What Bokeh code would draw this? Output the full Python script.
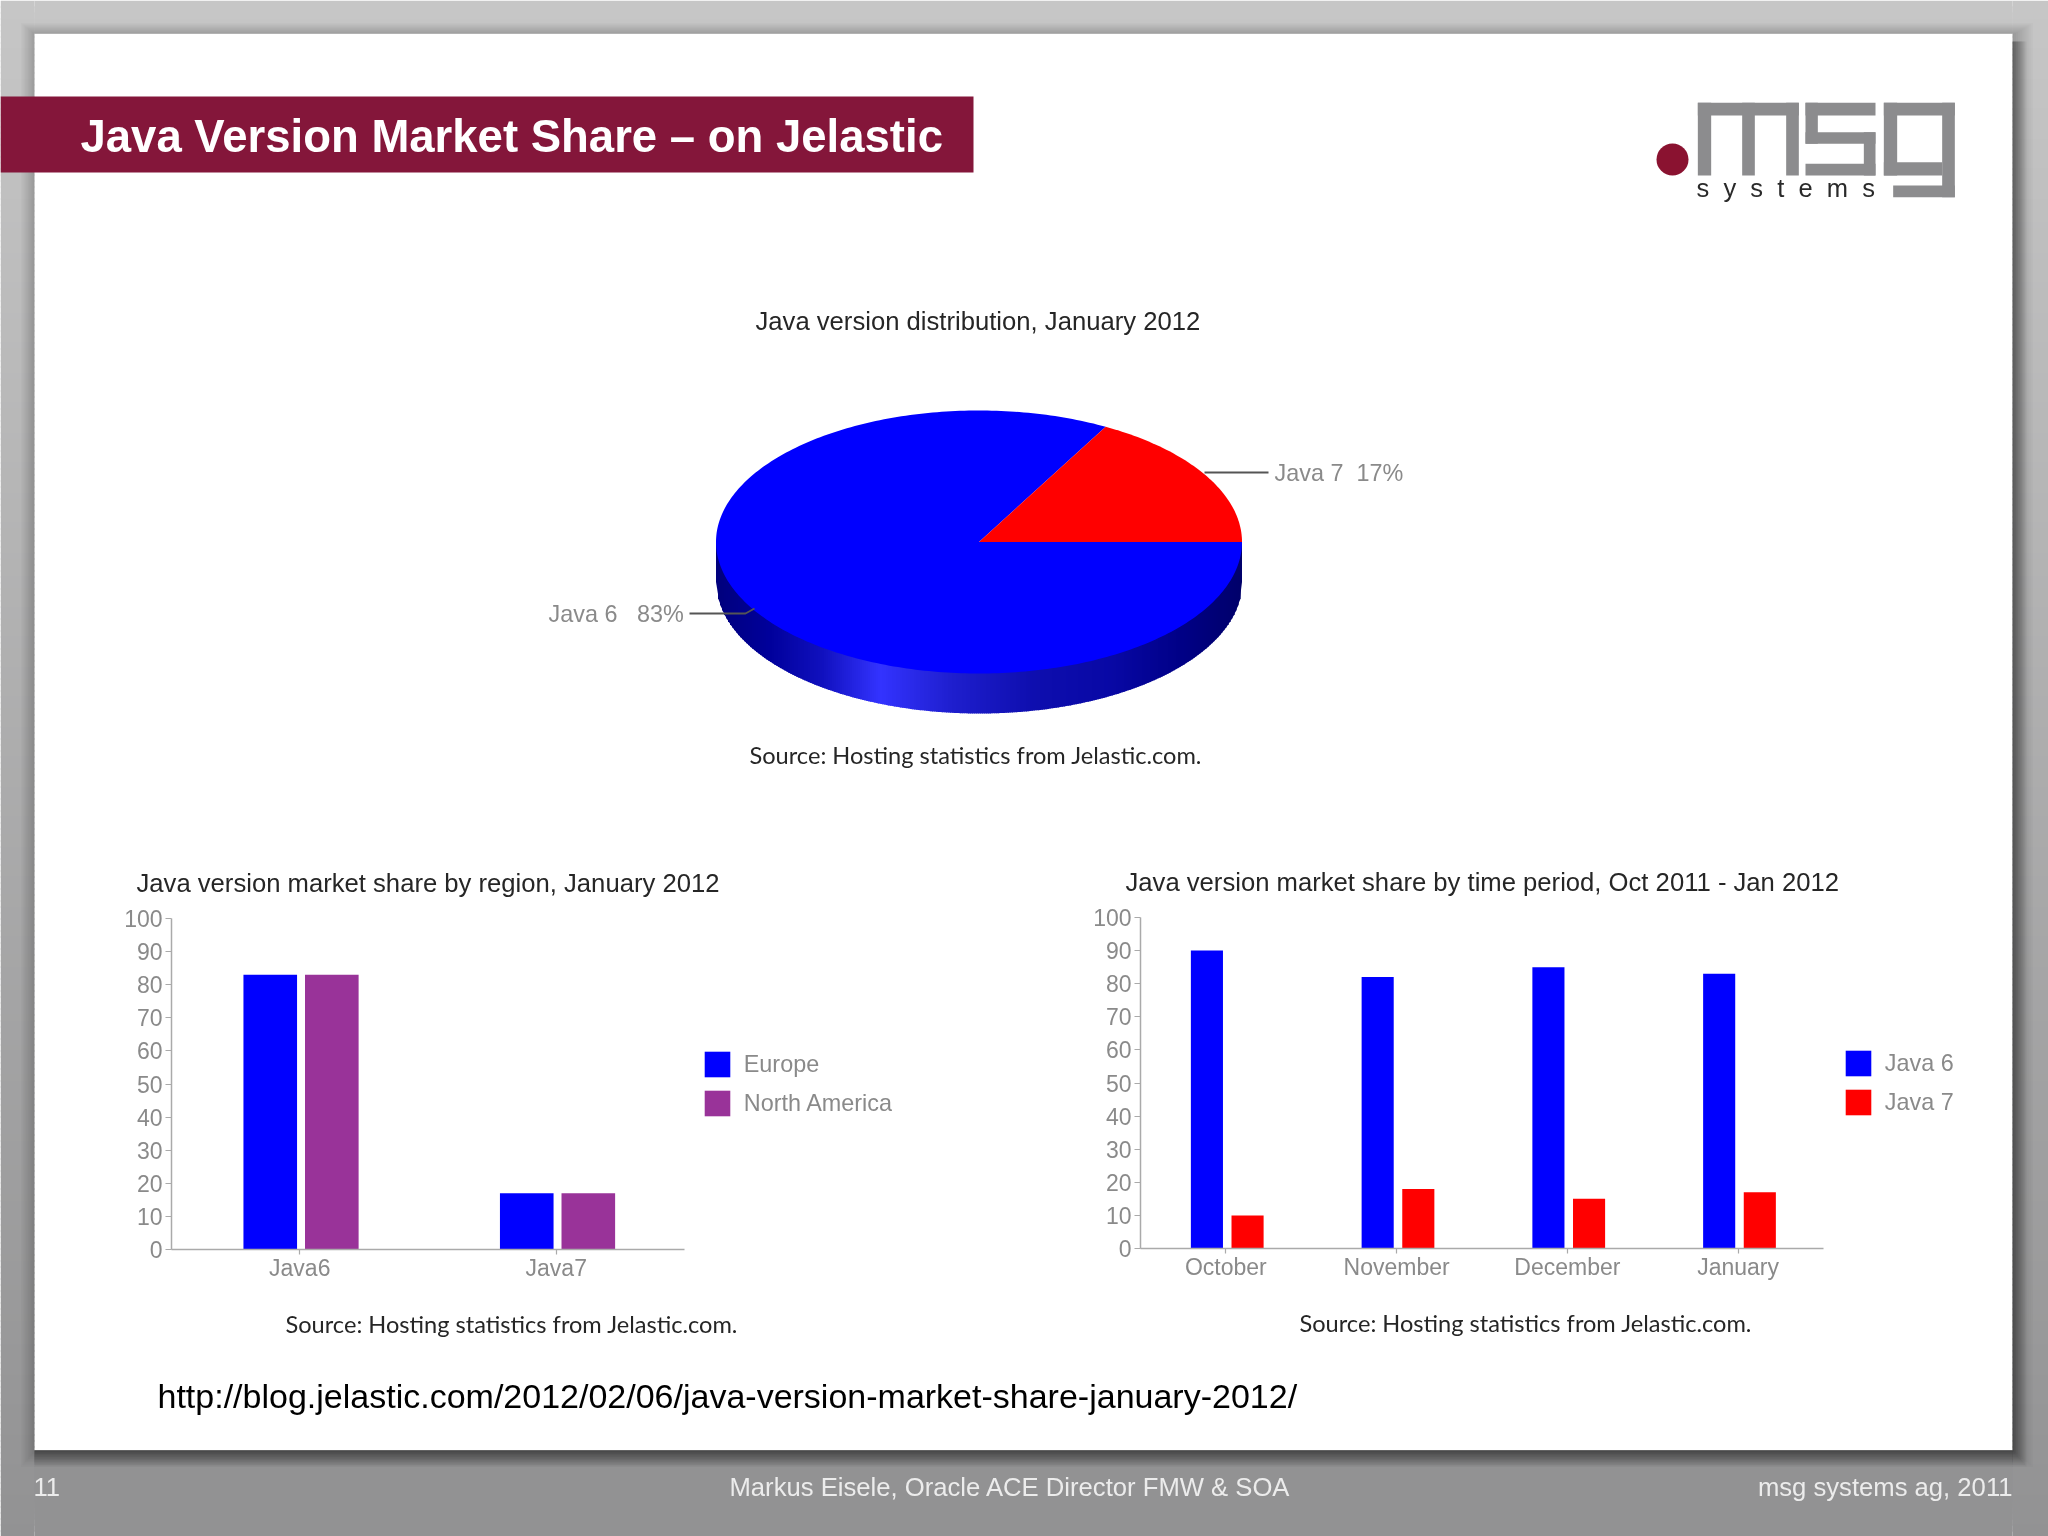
import numpy as np
from bokeh.core.properties import value
from bokeh.embed import file_html
from bokeh.layouts import column
from bokeh.models import FactorRange, FixedTicker, Legend, LegendItem, Range1d
from bokeh.plotting import figure
from bokeh.resources import INLINE
from bokeh.transform import dodge

# ---- data ----
heading = "Java Version Market Share \u2013 on Jelastic"
pie_title = "Java version distribution, January 2012"
region_title = "Java version market share by region, January 2012"
period_title = "Java version market share by time period, Oct 2011 - Jan 2012"
source_note = "Source: Hosting statistics from Jelastic.com."
url_text = "http://blog.jelastic.com/2012/02/06/java-version-market-share-january-2012/"

pie_java6 = 83
pie_java7 = 17

region_categories = ["Java6", "Java7"]
europe = [83, 17]
north_america = [83, 17]

months = ["October", "November", "December", "January"]
java6 = [90, 82, 85, 83]
java7 = [10, 18, 15, 17]

y_ticks = [0, 10, 20, 30, 40, 50, 60, 70, 80, 90, 100]

SANS = value("Liberation Sans")
LATO = value("Lato")
BLUE, RED, PURPLE = "#0000ff", "#ff0000", "#993399"
GREY_TEXT, DARK_TEXT = "#8a8a8a", "#262626"
SL, SR, ST, SB = 34, 2012, 33, 1450


def mix(c1, c2, t):
    return tuple(c1[i] + (c2[i] - c1[i]) * t for i in range(3))


def hexc(c):
    return "#%02x%02x%02x" % tuple(int(round(v)) for v in c)


def ring(f, L, R, T, B, color, alpha=1.0):
    """Paint only what lies outside the slide."""
    bands = [(L, SL, T, B), (SR, R, T, B), (SL, SR, T, ST), (SL, SR, SB, B)]
    for a, b, c, d in bands:
        if b > a and d > c:
            f.quad(left=[a], right=[b], top=[c], bottom=[d], fill_color=color, fill_alpha=alpha, line_color=None)


# ---- page: backdrop, heading, logo, pie, all texts outside the bar charts ----
page = figure(width=2048, height=1536, x_range=Range1d(0, 2048), y_range=Range1d(1536, 0),
              output_backend="svg", toolbar_location=None, min_border=0, frame_align=False)
page.axis.visible = False
page.grid.visible = False
page.outline_line_color = None
page.background_fill_color = "#ffffff"
page.border_fill_color = "#ffffff"

for y in range(0, 1536, 6):
    ring(page, 0, 2048, y, y + 7, hexc(mix((198, 198, 198), (146, 146, 147), y / 1536)))
for i in range(1, 15):
    ring(page, 40 - i * 1.4, 2006 + i * 1.9, 38 - i * 1.1, 1444 + i * 1.6, "#000000", 0.018)
for j in range(1, 11):
    ring(page, SL, SR + j * 1.4, ST + 8, SB + j * 1.6, "#000000", 0.04)


def put_text(x, y, s, size, color, font=SANS, weight="normal", align="left"):
    px = float(size[:-2])
    page.text(x=[x], y=[y - 0.36 * px], text=[s], text_font=font, text_font_size=size, text_color=color,
              text_font_style=weight, text_align=align, text_baseline="alphabetic")


page.quad(left=[0], right=[973], top=[96], bottom=[172], fill_color="#84163a", line_color=None)
put_text(80, 152, heading, "45.5px", "#ffffff", weight="bold")


def zx(v):
    return 1600 + v / 3


def zy(v):
    return 60 + v / 3


logo_boxes = [
    (292, 595, 127, 165), (292, 332, 127, 345), (425, 463, 127, 345), (557, 595, 127, 345),
    (615, 825, 127, 165), (615, 652, 127, 250), (615, 825, 215, 250), (790, 825, 215, 345), (615, 825, 310, 345),
    (850, 1063, 127, 165), (850, 890, 127, 345), (850, 1025, 305, 345), (1025, 1063, 127, 410), (878, 1063, 375, 410),
]
for a, b, c, d in logo_boxes:
    page.quad(left=[zx(a)], right=[zx(b)], top=[zy(c)], bottom=[zy(d)], fill_color="#8c8c8e", line_color=None)
page.circle(x=[1672], y=[159], radius=16, fill_color="#8a1230", line_color=None)
put_text(1696, 197, "s\u00a0\u00a0y\u00a0\u00a0s\u00a0\u00a0t\u00a0\u00a0e\u00a0\u00a0m\u00a0\u00a0s", "25.5px", "#2a2a2a")

# pie
cx, cy, rx, ry, depth = 978.5, 541.5, 263.0, 131.5, 40.0
side_stops = [(0.0, (0, 0, 125)), (0.1, (0, 0, 155)), (0.2, (16, 16, 190)), (0.31, (51, 51, 255)),
              (0.45, (30, 30, 205)), (0.6, (14, 14, 175)), (0.75, (8, 8, 165)), (0.88, (0, 0, 135)), (1.0, (0, 0, 105))]
col_x = np.arange(cx - rx, cx + rx, 2.0)
xs_side, ys_side, col_col = [], [], []
for xx in col_x:
    x2 = min(xx + 2.0, cx + rx)
    v1 = cy + depth + ry * np.sqrt(max(0.0, 1 - ((xx - cx) / rx) ** 2))
    v2 = cy + depth + ry * np.sqrt(max(0.0, 1 - ((x2 - cx) / rx) ** 2))
    over = min(x2 + 0.7, cx + rx)
    xs_side.append([xx, over, over, xx])
    ys_side.append([cy, cy, v2, v1])
    t = (xx - col_x[0]) / (2 * rx)
    for (t0, c0), (t1, c1) in zip(side_stops[:-1], side_stops[1:]):
        if t0 <= t <= t1:
            col_col.append(hexc(mix(c0, c1, (t - t0) / (t1 - t0))))
            break
    else:
        col_col.append(hexc(side_stops[-1][1]))
page.patches(xs_side, ys_side, fill_color=col_col, line_color=None)

total = pie_java6 + pie_java7
a7 = 2 * np.pi * pie_java7 / total
th7 = np.linspace(0, a7, 60)
th6 = np.linspace(a7, 2 * np.pi, 300)
page.patch(np.r_[cx, cx + rx * np.cos(th6)], np.r_[cy, cy - ry * np.sin(th6)], fill_color=BLUE, line_color=None)
page.patch(np.r_[cx, cx + rx * np.cos(th7)], np.r_[cy, cy - ry * np.sin(th7)], fill_color=RED, line_color=None)

page.line([1204, 1268], [472, 472], line_color="#555555", line_width=1.8)
page.line([689, 745, 754], [613, 613, 608], line_color="#555555", line_width=1.8)
put_text(755, 330, pie_title, "25.65px", DARK_TEXT)
put_text(1274, 481, f"Java 7\u00a0\u00a0{pie_java7}%", "23.4px", GREY_TEXT)
put_text(548, 621.7, f"Java 6\u00a0\u00a0\u00a0{pie_java6}%", "23.4px", GREY_TEXT)
put_text(749, 762.7, source_note, "23.6px", DARK_TEXT, font=LATO)
put_text(136, 891.7, region_title, "25.65px", DARK_TEXT)
put_text(1125, 890.7, period_title, "25.65px", DARK_TEXT)
put_text(285, 1332, source_note, "23.6px", DARK_TEXT, font=LATO)
put_text(1299, 1330.7, source_note, "23.6px", DARK_TEXT, font=LATO)
put_text(157, 1407.7, url_text, "34px", "#000000")
put_text(33, 1495.7, "11", "25.65px", "#ececec")
put_text(729, 1495.7, "Markus Eisele, Oracle ACE Director FMW & SOA", "25.65px", "#ececec")
put_text(2012, 1495.7, "msg systems ag, 2011", "25.65px", "#ececec", align="right")


# ---- bar charts, laid over the page ----
def bar_chart(x0, y0, f_left, f_right, f_top, f_bottom, cats, s1, s2, c1, c2, n1, n2, bw, off1, off2, leg_x, leg_y):
    f = figure(x_range=FactorRange(factors=cats), y_range=Range1d(0, 100),
               frame_width=f_right - f_left, frame_height=f_bottom - f_top,
               output_backend="svg", toolbar_location=None, frame_align=False,
               min_border_left=f_left - x0, min_border_right=0,
               min_border_top=f_top - y0, min_border_bottom=0,
               styles={"position": "absolute", "left": f"{x0}px", "top": f"{y0}px"})
    f.grid.visible = False
    f.outline_line_color = None
    f.background_fill_alpha = 0
    f.border_fill_alpha = 0
    data = {"cat": cats, "a": s1, "b": s2}
    r1 = f.vbar(x=dodge("cat", off1, range=f.x_range), top="a", width=bw, source=data, fill_color=c1, line_color=None)
    r2 = f.vbar(x=dodge("cat", off2, range=f.x_range), top="b", width=bw, source=data, fill_color=c2, line_color=None)
    for ax in (f.xaxis[0], f.yaxis[0]):
        ax.axis_line_color = "#aaaaaa"
        ax.axis_line_width = 1.5
        ax.major_tick_line_color = "#aaaaaa"
        ax.major_tick_line_width = 1.2
        ax.major_tick_in = 0
        ax.major_tick_out = 6
        ax.minor_tick_line_color = None
        ax.major_label_text_font = "Liberation Sans"
        ax.major_label_text_font_size = "23px"
        ax.major_label_text_color = GREY_TEXT
        ax.major_label_standoff = 3
    f.xaxis[0].major_tick_out = 5
    f.xaxis[0].major_label_standoff = 0
    f.yaxis[0].ticker = FixedTicker(ticks=y_ticks)
    # a legend swatch fills 80% of its glyph box
    leg = Legend(items=[LegendItem(label=n1, renderers=[r1]), LegendItem(label=n2, renderers=[r2])],
                 location=(leg_x - f_right - 3.25, f_bottom - leg_y - 3.25), orientation="vertical",
                 glyph_width=32, glyph_height=32, label_height=32, spacing=7, label_standoff=11,
                 padding=0, margin=0, border_line_color=None, background_fill_alpha=0,
                 label_text_font="Liberation Sans", label_text_font_size="23.4px", label_text_color=GREY_TEXT)
    f.add_layout(leg, "right")
    return f


left_chart = bar_chart(34, 905, 171, 684, 918, 1249, region_categories, europe, north_america, BLUE, PURPLE,
                       "Europe", "North America", 0.209, -0.115, 0.125, 704, 1116)
right_chart = bar_chart(1060, 905, 1140, 1823, 917, 1248, months, java6, java7, BLUE, RED,
                        "Java 6", "Java 7", 0.188, -0.111, 0.127, 1845, 1115)

p = column(page, left_chart, right_chart, spacing=0,
           styles={"position": "fixed", "left": "0px", "top": "0px", "width": "2048px", "height": "1536px",
                   "overflow": "hidden"})

open("out.html", "w").write(file_html(p, INLINE))
